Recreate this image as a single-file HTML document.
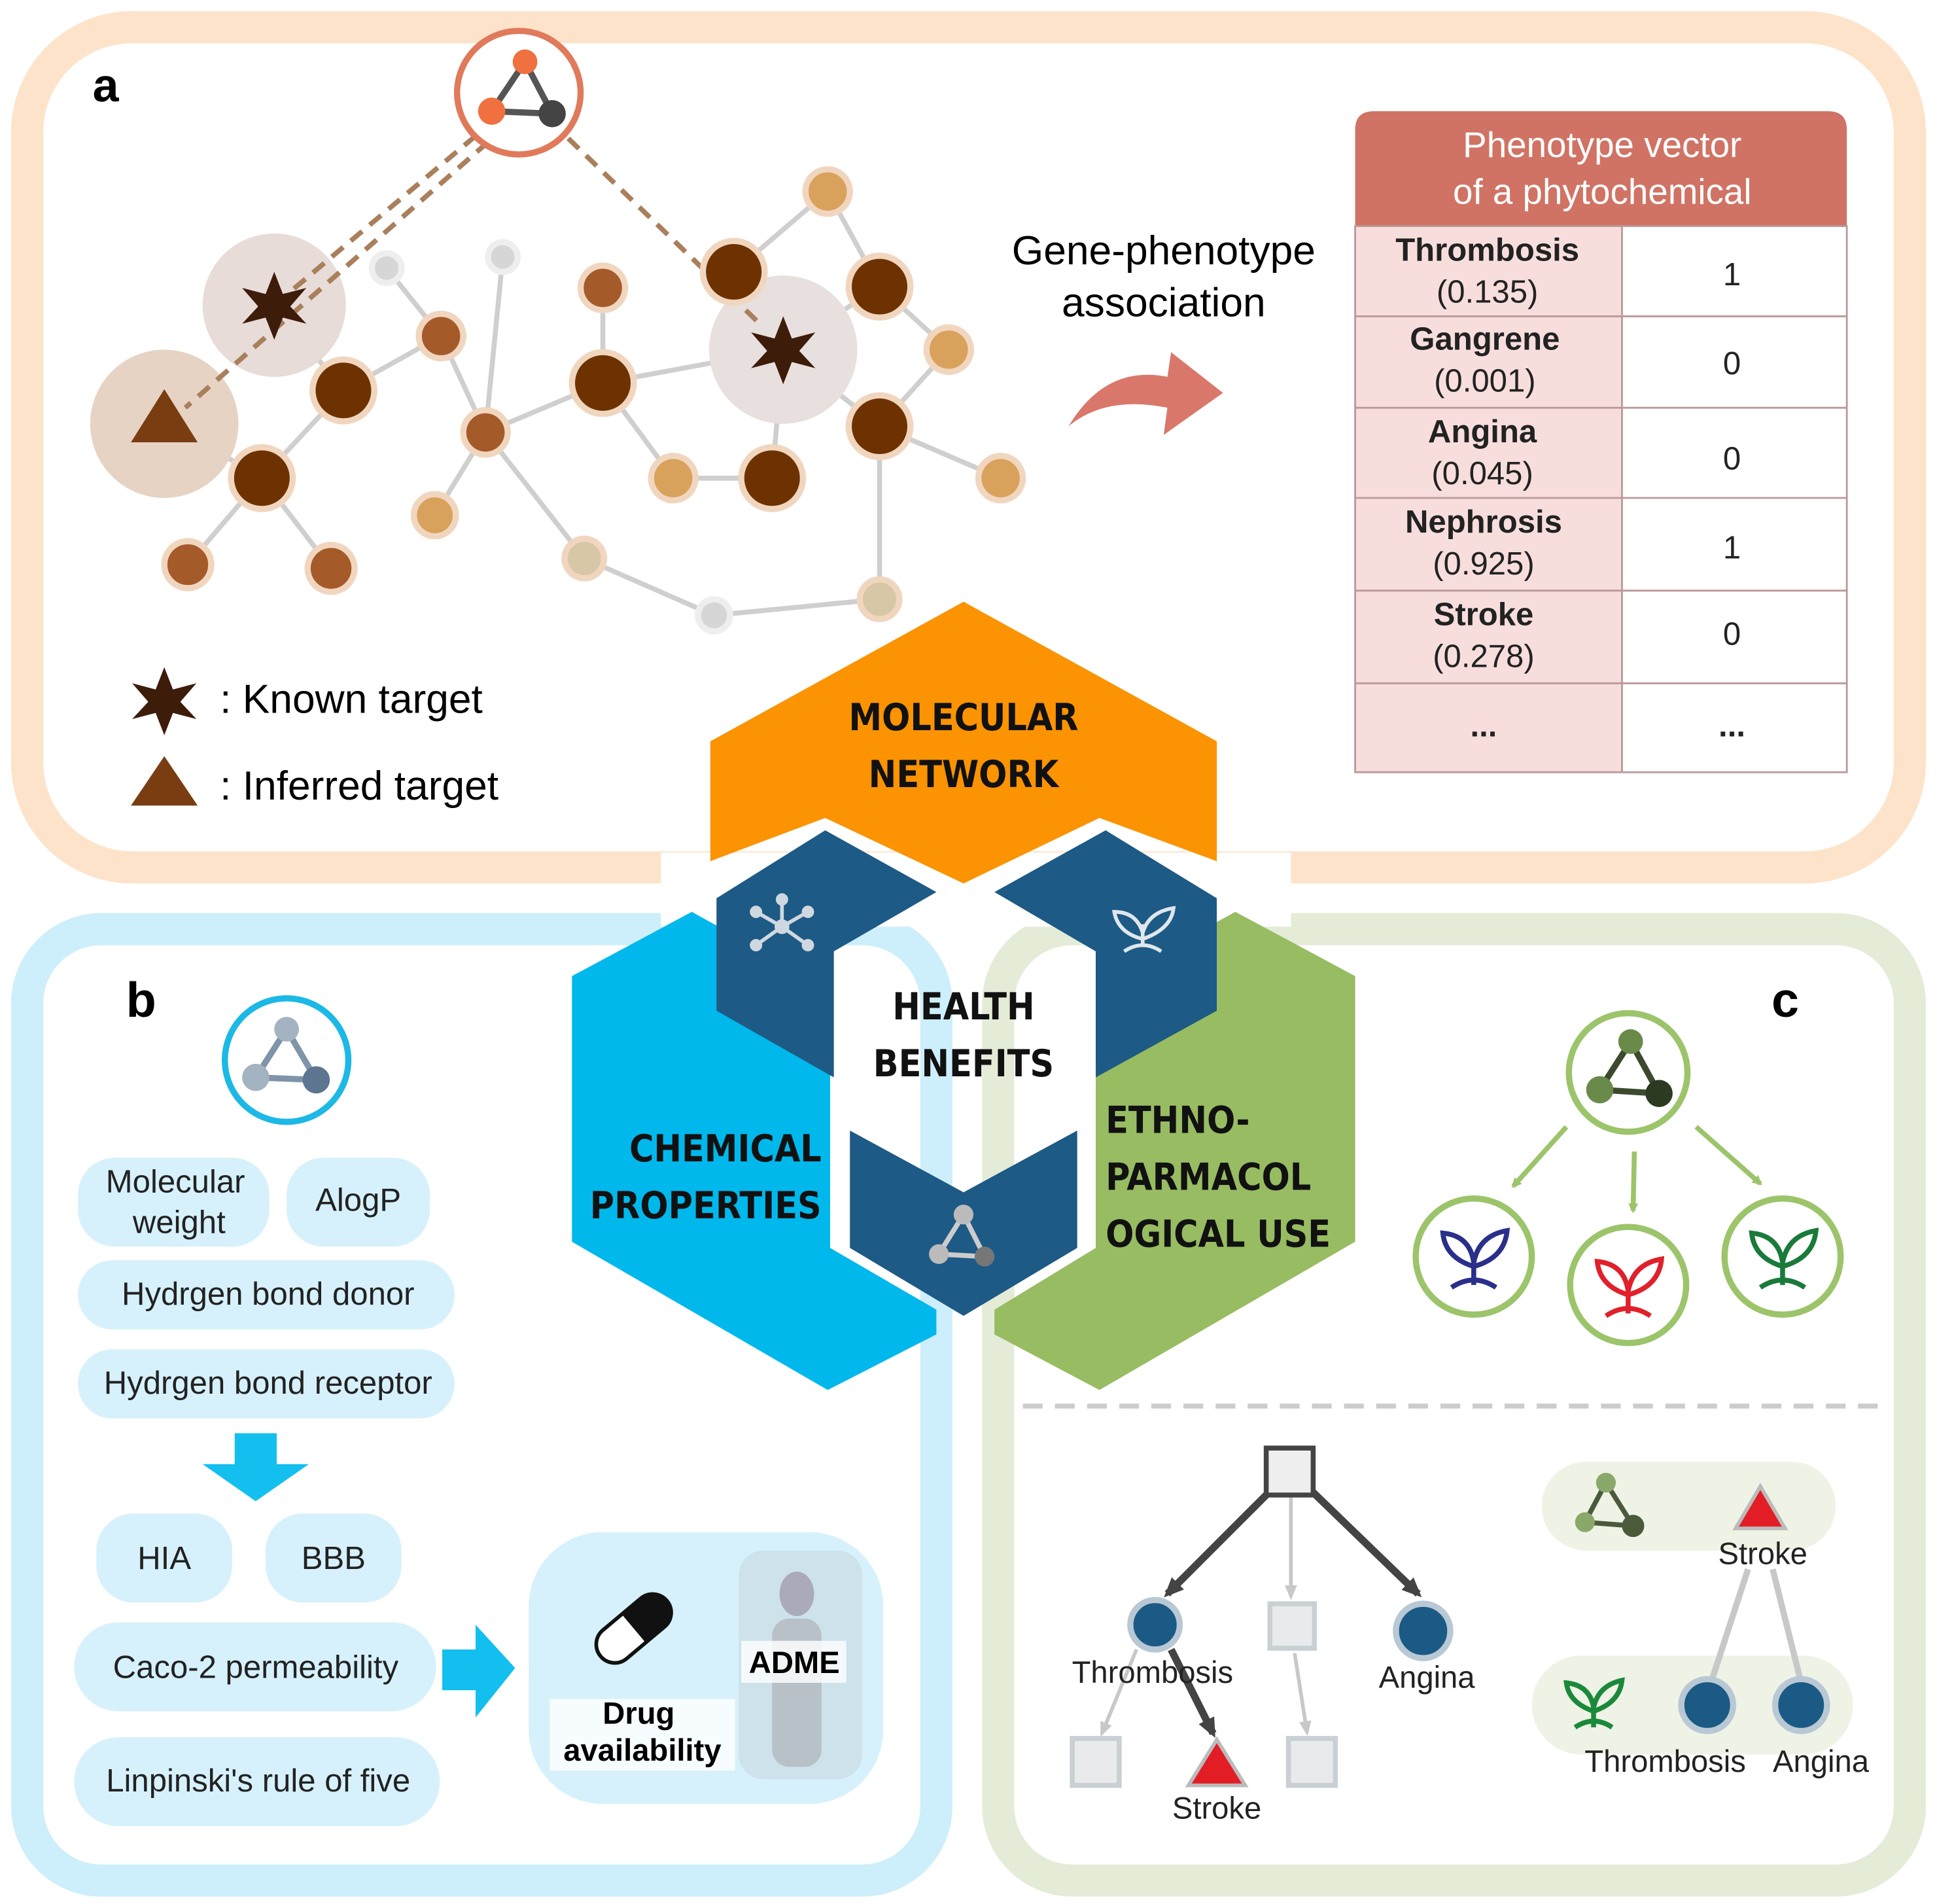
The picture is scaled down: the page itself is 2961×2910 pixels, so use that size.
<!DOCTYPE html>
<html><head><meta charset="utf-8"><style>
html,body{margin:0;padding:0;background:#fff;}
svg{display:block;}
text{font-family:"Liberation Sans",sans-serif;}
</style></head><body>
<svg width="2961" height="2910" viewBox="0 0 1568 1541" preserveAspectRatio="none" xmlns="http://www.w3.org/2000/svg">
<defs>
<marker id="ag" markerWidth="8" markerHeight="8" refX="6" refY="4" orient="auto" markerUnits="userSpaceOnUse"><path d="M0,0 L8,4 L0,8 z" fill="#9cc46a"/></marker>
<marker id="ad" markerWidth="16" markerHeight="14" refX="12" refY="7" orient="auto" markerUnits="userSpaceOnUse"><path d="M0,0 L16,7 L0,14 z" fill="#444"/></marker>
<marker id="al" markerWidth="12" markerHeight="10" refX="9" refY="5" orient="auto" markerUnits="userSpaceOnUse"><path d="M0,0 L12,5 L0,10 z" fill="#c8c8c8"/></marker>
</defs>
<rect x="22" y="22" width="1524" height="680" rx="85" fill="#fff" stroke="#fde3c9" stroke-width="26"/>
<rect x="22" y="752" width="736" height="770" rx="60" fill="#fff" stroke="#cdeefb" stroke-width="26"/>
<rect x="808" y="752" width="738" height="770" rx="60" fill="#fff" stroke="#e4ecd8" stroke-width="26"/>
<rect x="535" y="690" width="510" height="60" fill="#fff"/>

<text x="75" y="82" font-size="38" font-weight="bold">a</text>
<g stroke="#cfcfcf" stroke-width="4">
<line x1="212" y1="387" x2="278" y2="316"/><line x1="278" y1="316" x2="357" y2="272"/><line x1="357" y1="272" x2="313" y2="217"/>
<line x1="357" y1="272" x2="393" y2="350"/><line x1="393" y1="350" x2="407" y2="208"/><line x1="393" y1="350" x2="488" y2="310"/>
<line x1="393" y1="350" x2="352" y2="417"/><line x1="393" y1="350" x2="473" y2="452"/><line x1="488" y1="310" x2="488" y2="233"/>
<line x1="488" y1="310" x2="545" y2="387"/><line x1="488" y1="310" x2="634" y2="283"/><line x1="634" y1="283" x2="594" y2="220"/>
<line x1="634" y1="283" x2="712" y2="232"/><line x1="594" y1="220" x2="670" y2="155"/><line x1="670" y1="155" x2="712" y2="232"/>
<line x1="712" y1="232" x2="768" y2="283"/><line x1="768" y1="283" x2="712" y2="345"/><line x1="634" y1="283" x2="712" y2="345"/>
<line x1="634" y1="283" x2="625" y2="387"/><line x1="712" y1="345" x2="810" y2="387"/><line x1="712" y1="345" x2="712" y2="485"/>
<line x1="473" y1="452" x2="578" y2="498"/><line x1="578" y1="498" x2="712" y2="485"/><line x1="212" y1="387" x2="152" y2="457"/>
<line x1="212" y1="387" x2="268" y2="460"/><line x1="212" y1="387" x2="133" y2="340"/><line x1="278" y1="316" x2="222" y2="247"/>
<line x1="545" y1="387" x2="625" y2="387"/>
</g>
<circle cx="222" cy="247" r="58" fill="#e8dcd8"/>
<circle cx="634" cy="283" r="60" fill="#e8e0de"/>
<circle cx="133" cy="343" r="60" fill="#e6d3c4"/>
<g stroke="#a97f5c" stroke-width="4" stroke-dasharray="12,8" fill="none">
<line x1="385" y1="110" x2="222" y2="247"/><line x1="395" y1="115" x2="150" y2="330"/><line x1="460" y1="112" x2="615" y2="262"/>
</g>
<g stroke="#f1d6bf" stroke-width="5">
<g fill="#6e3200"><circle cx="278" cy="316" r="25"/><circle cx="212" cy="387" r="25"/><circle cx="488" cy="310" r="25"/><circle cx="594" cy="220" r="25"/><circle cx="712" cy="232" r="25"/><circle cx="712" cy="345" r="25"/><circle cx="625" cy="387" r="25"/></g>
<g fill="#a55a2a"><circle cx="357" cy="272" r="18"/><circle cx="393" cy="350" r="18"/><circle cx="488" cy="233" r="18"/><circle cx="152" cy="457" r="19"/><circle cx="268" cy="460" r="19"/></g>
<g fill="#d9a25c"><circle cx="670" cy="155" r="18"/><circle cx="768" cy="283" r="18"/><circle cx="810" cy="387" r="18"/><circle cx="545" cy="387" r="18"/><circle cx="352" cy="417" r="17"/></g>
<g fill="#d8c7a6"><circle cx="473" cy="452" r="16"/><circle cx="712" cy="485" r="16"/></g>
<g fill="#d6d6d6" stroke="#eee"><circle cx="313" cy="217" r="12"/><circle cx="407" cy="208" r="12"/><circle cx="578" cy="498" r="13"/></g>
</g>
<polygon points="222,220 229,238 248,233 235,248 248,262 229,257 222,275 215,257 196,262 209,248 196,233 215,238" fill="#3e1c0a"/>
<polygon points="634,256 641,274 660,269 647,284 660,298 641,293 634,311 627,293 608,298 621,284 608,269 627,274" fill="#3e1c0a"/>
<polygon points="133,315 160,358 106,358" fill="#7a3d12"/>
<circle cx="420" cy="75" r="50" fill="#fff" stroke="#e07a5a" stroke-width="5"/>
<g stroke="#555" stroke-width="5"><line x1="425" y1="50" x2="398" y2="90"/><line x1="425" y1="50" x2="447" y2="92"/><line x1="398" y1="90" x2="447" y2="92"/></g>
<circle cx="425" cy="50" r="10" fill="#f07040"/><circle cx="398" cy="90" r="11" fill="#f07040"/><circle cx="447" cy="92" r="11" fill="#444"/>
<polygon points="133,540 140,558 159,553 146,568 159,582 140,577 133,595 126,577 107,582 120,568 107,553 126,558" fill="#3e1c0a"/>
<polygon points="133,612 160,652 106,652" fill="#7a3d12"/>
<text x="178" y="577" font-size="33">: Known target</text>
<text x="178" y="647" font-size="33">: Inferred target</text>
<text x="942" y="214" font-size="33" text-anchor="middle">Gene-phenotype</text>
<text x="942" y="256" font-size="33" text-anchor="middle">association</text>
<path d="M865,345 Q895,295 945,305 L948,285 L990,318 L942,352 L945,330 Q895,320 865,345 z" fill="#d9786a"/>
<path d="M1097,183 L1097,105 Q1097,90 1112,90 L1480,90 Q1495,90 1495,105 L1495,183 z" fill="#d07364"/>
<text x="1297" y="127" font-size="29" fill="#fff" text-anchor="middle">Phenotype vector</text>
<text x="1297" y="165" font-size="29" fill="#fff" text-anchor="middle">of a phytochemical</text>
<rect x="1097" y="183" width="216" height="442" fill="#f7dedd"/>
<g stroke="#b99" stroke-width="1.5" fill="none">
<rect x="1097" y="183" width="398" height="442"/><line x1="1313" y1="183" x2="1313" y2="625"/>
<line x1="1097" y1="256" x2="1495" y2="256"/><line x1="1097" y1="330" x2="1495" y2="330"/><line x1="1097" y1="403" x2="1495" y2="403"/><line x1="1097" y1="478" x2="1495" y2="478"/><line x1="1097" y1="553" x2="1495" y2="553"/>
</g>
<g font-size="26" text-anchor="middle" fill="#222">
<text x="1204" y="211" font-weight="bold">Thrombosis</text><text x="1204" y="245">(0.135)</text><text x="1402" y="231">1</text>
<text x="1202" y="283" font-weight="bold">Gangrene</text><text x="1202" y="317">(0.001)</text><text x="1402" y="303">0</text>
<text x="1200" y="358" font-weight="bold">Angina</text><text x="1200" y="392">(0.045)</text><text x="1402" y="380">0</text>
<text x="1201" y="431" font-weight="bold">Nephrosis</text><text x="1201" y="465">(0.925)</text><text x="1402" y="452">1</text>
<text x="1201" y="506" font-weight="bold">Stroke</text><text x="1201" y="540">(0.278)</text><text x="1402" y="522">0</text>
<text x="1201" y="596" font-weight="bold">...</text><text x="1402" y="596" font-weight="bold">...</text>
</g>

<polygon points="780,487 985,600 985,697 890,662 780,715 668,662 575,697 575,600" fill="#fb9302"/>
<polygon points="463,790 560,738 672,800 672,1010 758,1060 758,1080 670,1125 463,1005" fill="#00b8ec"/>
<polygon points="1097,790 1000,738 887,800 887,1010 805,1060 805,1080 890,1125 1097,1005" fill="#98bc62"/>
<polygon points="580,727 668,672 758,722 675,770 675,872 580,818" fill="#1d5a85"/>
<polygon points="985,727 895,672 805,722 887,770 887,872 985,818" fill="#1d5a85"/>
<polygon points="688,915 780,965 872,915 872,1010 780,1065 688,1010" fill="#1d5a85"/>
<g font-size="30" font-weight="bold" fill="#111" style="font-family:'DejaVu Sans Condensed','DejaVu Sans',sans-serif">
<text x="780" y="591" text-anchor="middle" style="font-family:'DejaVu Sans Condensed','DejaVu Sans',sans-serif">MOLECULAR</text>
<text x="780" y="637" text-anchor="middle" style="font-family:'DejaVu Sans Condensed','DejaVu Sans',sans-serif">NETWORK</text>
<text x="780" y="825" text-anchor="middle" style="font-family:'DejaVu Sans Condensed','DejaVu Sans',sans-serif">HEALTH</text>
<text x="780" y="871" text-anchor="middle" style="font-family:'DejaVu Sans Condensed','DejaVu Sans',sans-serif">BENEFITS</text>
<text x="665" y="940" text-anchor="end" style="font-family:'DejaVu Sans Condensed','DejaVu Sans',sans-serif">CHEMICAL</text>
<text x="665" y="986" text-anchor="end" style="font-family:'DejaVu Sans Condensed','DejaVu Sans',sans-serif">PROPERTIES</text>
<text x="895" y="917" style="font-family:'DejaVu Sans Condensed','DejaVu Sans',sans-serif">ETHNO-</text>
<text x="895" y="963" style="font-family:'DejaVu Sans Condensed','DejaVu Sans',sans-serif">PARMACOL</text>
<text x="895" y="1009" style="font-family:'DejaVu Sans Condensed','DejaVu Sans',sans-serif">OGICAL USE</text>
</g>
<g stroke="#cfd8e0" stroke-width="3"><line x1="633" y1="750" x2="612" y2="738"/><line x1="633" y1="750" x2="654" y2="738"/><line x1="633" y1="750" x2="612" y2="765"/><line x1="633" y1="750" x2="654" y2="765"/><line x1="633" y1="750" x2="633" y2="728"/></g>
<g fill="#cfd8e0"><circle cx="633" cy="750" r="6"/><circle cx="612" cy="738" r="5"/><circle cx="654" cy="738" r="5"/><circle cx="612" cy="765" r="5"/><circle cx="654" cy="765" r="5"/><circle cx="633" cy="728" r="5"/></g>
<g stroke="#dfe6ec" stroke-width="3" fill="none"><path d="M925,765 L925,748 M925,760 Q905,755 902,738 Q920,738 925,755 M925,755 Q930,738 950,735 Q948,752 925,760 M910,770 Q925,760 940,770"/></g>
<g stroke="#ccc" stroke-width="4"><line x1="780" y1="983" x2="760" y2="1015"/><line x1="780" y1="983" x2="797" y2="1017"/><line x1="760" y1="1015" x2="797" y2="1017"/></g>
<circle cx="780" cy="983" r="8" fill="#bbb"/><circle cx="760" cy="1015" r="8" fill="#bbb"/><circle cx="797" cy="1017" r="8" fill="#777"/>

<text x="102" y="823" font-size="40" font-weight="bold">b</text>
<circle cx="232" cy="858" r="50" fill="#fff" stroke="#1cb8e6" stroke-width="5"/>
<g stroke="#7f94a8" stroke-width="5"><line x1="232" y1="833" x2="207" y2="872"/><line x1="232" y1="833" x2="256" y2="874"/><line x1="207" y1="872" x2="256" y2="874"/></g>
<circle cx="232" cy="833" r="10" fill="#a4b3c2"/><circle cx="207" cy="872" r="11" fill="#a4b3c2"/><circle cx="256" cy="874" r="11" fill="#5d7590"/>
<g fill="#d6f1fb">
<rect x="63" y="937" width="155" height="72" rx="30"/><rect x="232" y="937" width="116" height="72" rx="30"/>
<rect x="63" y="1020" width="305" height="56" rx="28"/><rect x="63" y="1092" width="305" height="56" rx="28"/>
<rect x="78" y="1225" width="110" height="72" rx="30"/><rect x="215" y="1225" width="110" height="72" rx="30"/>
<rect x="60" y="1313" width="293" height="72" rx="36"/><rect x="60" y="1406" width="296" height="72" rx="36"/>
<rect x="428" y="1240" width="287" height="220" rx="60"/>
</g>
<g font-size="26" text-anchor="middle" fill="#222">
<text x="142" y="965">Molecular</text><text x="145" y="998">weight</text><text x="290" y="980">AlogP</text>
<text x="217" y="1056">Hydrgen bond donor</text><text x="217" y="1128">Hydrgen bond receptor</text>
<text x="133" y="1270">HIA</text><text x="270" y="1270">BBB</text>
<text x="207" y="1358">Caco-2 permeability</text><text x="209" y="1450">Linpinski's rule of five</text>
</g>
<polygon points="190,1160 224,1160 224,1185 250,1185 207,1215 164,1185 190,1185" fill="#12bfee"/>
<polygon points="358,1335 385,1335 385,1315 417,1350 385,1390 385,1368 358,1368" fill="#12bfee"/>
<rect x="598" y="1255" width="100" height="185" rx="20" fill="#c9dce4" opacity="0.7"/>
<ellipse cx="645" cy="1290" rx="14" ry="18" fill="#aab"/><rect x="625" y="1310" width="40" height="120" rx="14" fill="#b8c0c8"/>
<rect x="445" y="1375" width="150" height="58" fill="#fff" opacity="0.8"/>
<rect x="600" y="1328" width="85" height="34" fill="#fff" opacity="0.8"/>
<g transform="rotate(-40 513 1318)"><rect x="478" y="1303" width="70" height="30" rx="15" fill="#fff" stroke="#111" stroke-width="3"/><path d="M513,1303 L533,1303 A15,15 0 0 1 533,1333 L513,1333 z" fill="#111"/></g>
<text x="643" y="1354" font-size="25" font-weight="bold" text-anchor="middle">ADME</text>
<text x="517" y="1395" font-size="25" font-weight="bold" text-anchor="middle">Drug</text>
<text x="520" y="1425" font-size="25" font-weight="bold" text-anchor="middle">availability</text>

<text x="1434" y="823" font-size="40" font-weight="bold">c</text>
<circle cx="1318" cy="868" r="48" fill="#fff" stroke="#9cc46a" stroke-width="5"/>
<g stroke="#3b4a2e" stroke-width="5"><line x1="1320" y1="843" x2="1295" y2="882"/><line x1="1320" y1="843" x2="1343" y2="885"/><line x1="1295" y1="882" x2="1343" y2="885"/></g>
<circle cx="1320" cy="843" r="10" fill="#6a8a4a"/><circle cx="1295" cy="882" r="11" fill="#6a8a4a"/><circle cx="1343" cy="885" r="11" fill="#2d3a22"/>
<g stroke="#9cc46a" stroke-width="4" marker-end="url(#ag)"><line x1="1268" y1="912" x2="1225" y2="960"/><line x1="1323" y1="932" x2="1322" y2="980"/><line x1="1373" y1="912" x2="1425" y2="958"/></g>
<g fill="#fff" stroke="#9cc46a" stroke-width="5"><circle cx="1193" cy="1017" r="47"/><circle cx="1318" cy="1040" r="47"/><circle cx="1443" cy="1017" r="47"/></g>
<g fill="none" stroke-width="4">
<path d="M1193,1040 L1193,1020 M1193,1025 Q1170,1018 1168,998 Q1190,1000 1193,1022 M1193,1022 Q1197,1000 1220,996 Q1218,1018 1193,1025 M1175,1042 Q1193,1030 1211,1042" stroke="#2a2f8a"/>
<path d="M1318,1063 L1318,1043 M1318,1048 Q1295,1041 1293,1021 Q1315,1023 1318,1045 M1318,1045 Q1322,1023 1345,1019 Q1343,1041 1318,1048 M1300,1065 Q1318,1053 1336,1065" stroke="#e0202a"/>
<path d="M1443,1040 L1443,1020 M1443,1025 Q1420,1018 1418,998 Q1440,1000 1443,1022 M1443,1022 Q1447,1000 1470,996 Q1468,1018 1443,1025 M1425,1042 Q1443,1030 1461,1042" stroke="#1a7a3a"/>
</g>
<line x1="828" y1="1138" x2="1525" y2="1138" stroke="#ccc" stroke-width="4" stroke-dasharray="16,10"/>
<g stroke="#444" stroke-width="6" marker-end="url(#ad)"><line x1="1030" y1="1205" x2="945" y2="1290"/><line x1="1060" y1="1205" x2="1148" y2="1290"/><line x1="948" y1="1335" x2="982" y2="1403"/></g>
<g stroke="#c8c8c8" stroke-width="3" marker-end="url(#al)"><line x1="1045" y1="1210" x2="1045" y2="1292"/><line x1="1048" y1="1338" x2="1058" y2="1402"/><line x1="920" y1="1335" x2="892" y2="1403"/></g>
<rect x="1025" y="1172" width="38" height="38" fill="#eee" stroke="#444" stroke-width="4"/>
<g fill="#e8eaec" stroke="#c8d0d4" stroke-width="4"><rect x="1028" y="1298" width="36" height="36"/><rect x="868" y="1407" width="38" height="38"/><rect x="1043" y="1407" width="38" height="38"/></g>
<g fill="#1b5a84" stroke="#b8c8d4" stroke-width="5"><circle cx="935" cy="1315" r="20"/><circle cx="1152" cy="1320" r="22"/></g>
<polygon points="985,1408 1008,1445 962,1445" fill="#e21d25" stroke="#bbb" stroke-width="3"/>
<g font-size="25" text-anchor="middle" fill="#222"><text x="933" y="1362">Thrombosis</text><text x="1155" y="1366">Angina</text><text x="985" y="1472">Stroke</text></g>
<rect x="1248" y="1183" width="238" height="72" rx="36" fill="#eef3e6"/>
<rect x="1240" y="1340" width="260" height="80" rx="40" fill="#eef3e6"/>
<g stroke="#c8c8c8" stroke-width="5"><line x1="1415" y1="1270" x2="1385" y2="1362"/><line x1="1435" y1="1270" x2="1458" y2="1362"/></g>
<g stroke="#4a5a3a" stroke-width="4"><line x1="1300" y1="1200" x2="1283" y2="1232"/><line x1="1300" y1="1200" x2="1322" y2="1235"/><line x1="1283" y1="1232" x2="1322" y2="1235"/></g>
<circle cx="1300" cy="1200" r="8" fill="#8aa86a"/><circle cx="1283" cy="1232" r="8" fill="#8aa86a"/><circle cx="1322" cy="1235" r="9" fill="#4a5a3a"/>
<polygon points="1425,1203 1445,1237 1405,1237" fill="#e21d25" stroke="#bbb" stroke-width="3"/>
<path d="M1290,1398 L1290,1380 M1290,1385 Q1270,1378 1268,1362 Q1287,1364 1290,1382 M1290,1382 Q1294,1364 1313,1360 Q1311,1378 1290,1385 M1275,1398 Q1290,1388 1305,1398" fill="none" stroke="#1a8a3a" stroke-width="4"/>
<g fill="#1b5a84" stroke="#b8c8d4" stroke-width="5"><circle cx="1382" cy="1380" r="21"/><circle cx="1458" cy="1380" r="21"/></g>
<g font-size="25" text-anchor="middle" fill="#222"><text x="1427" y="1266">Stroke</text><text x="1348" y="1434">Thrombosis</text><text x="1474" y="1434">Angina</text></g>
</svg>
</body></html>
